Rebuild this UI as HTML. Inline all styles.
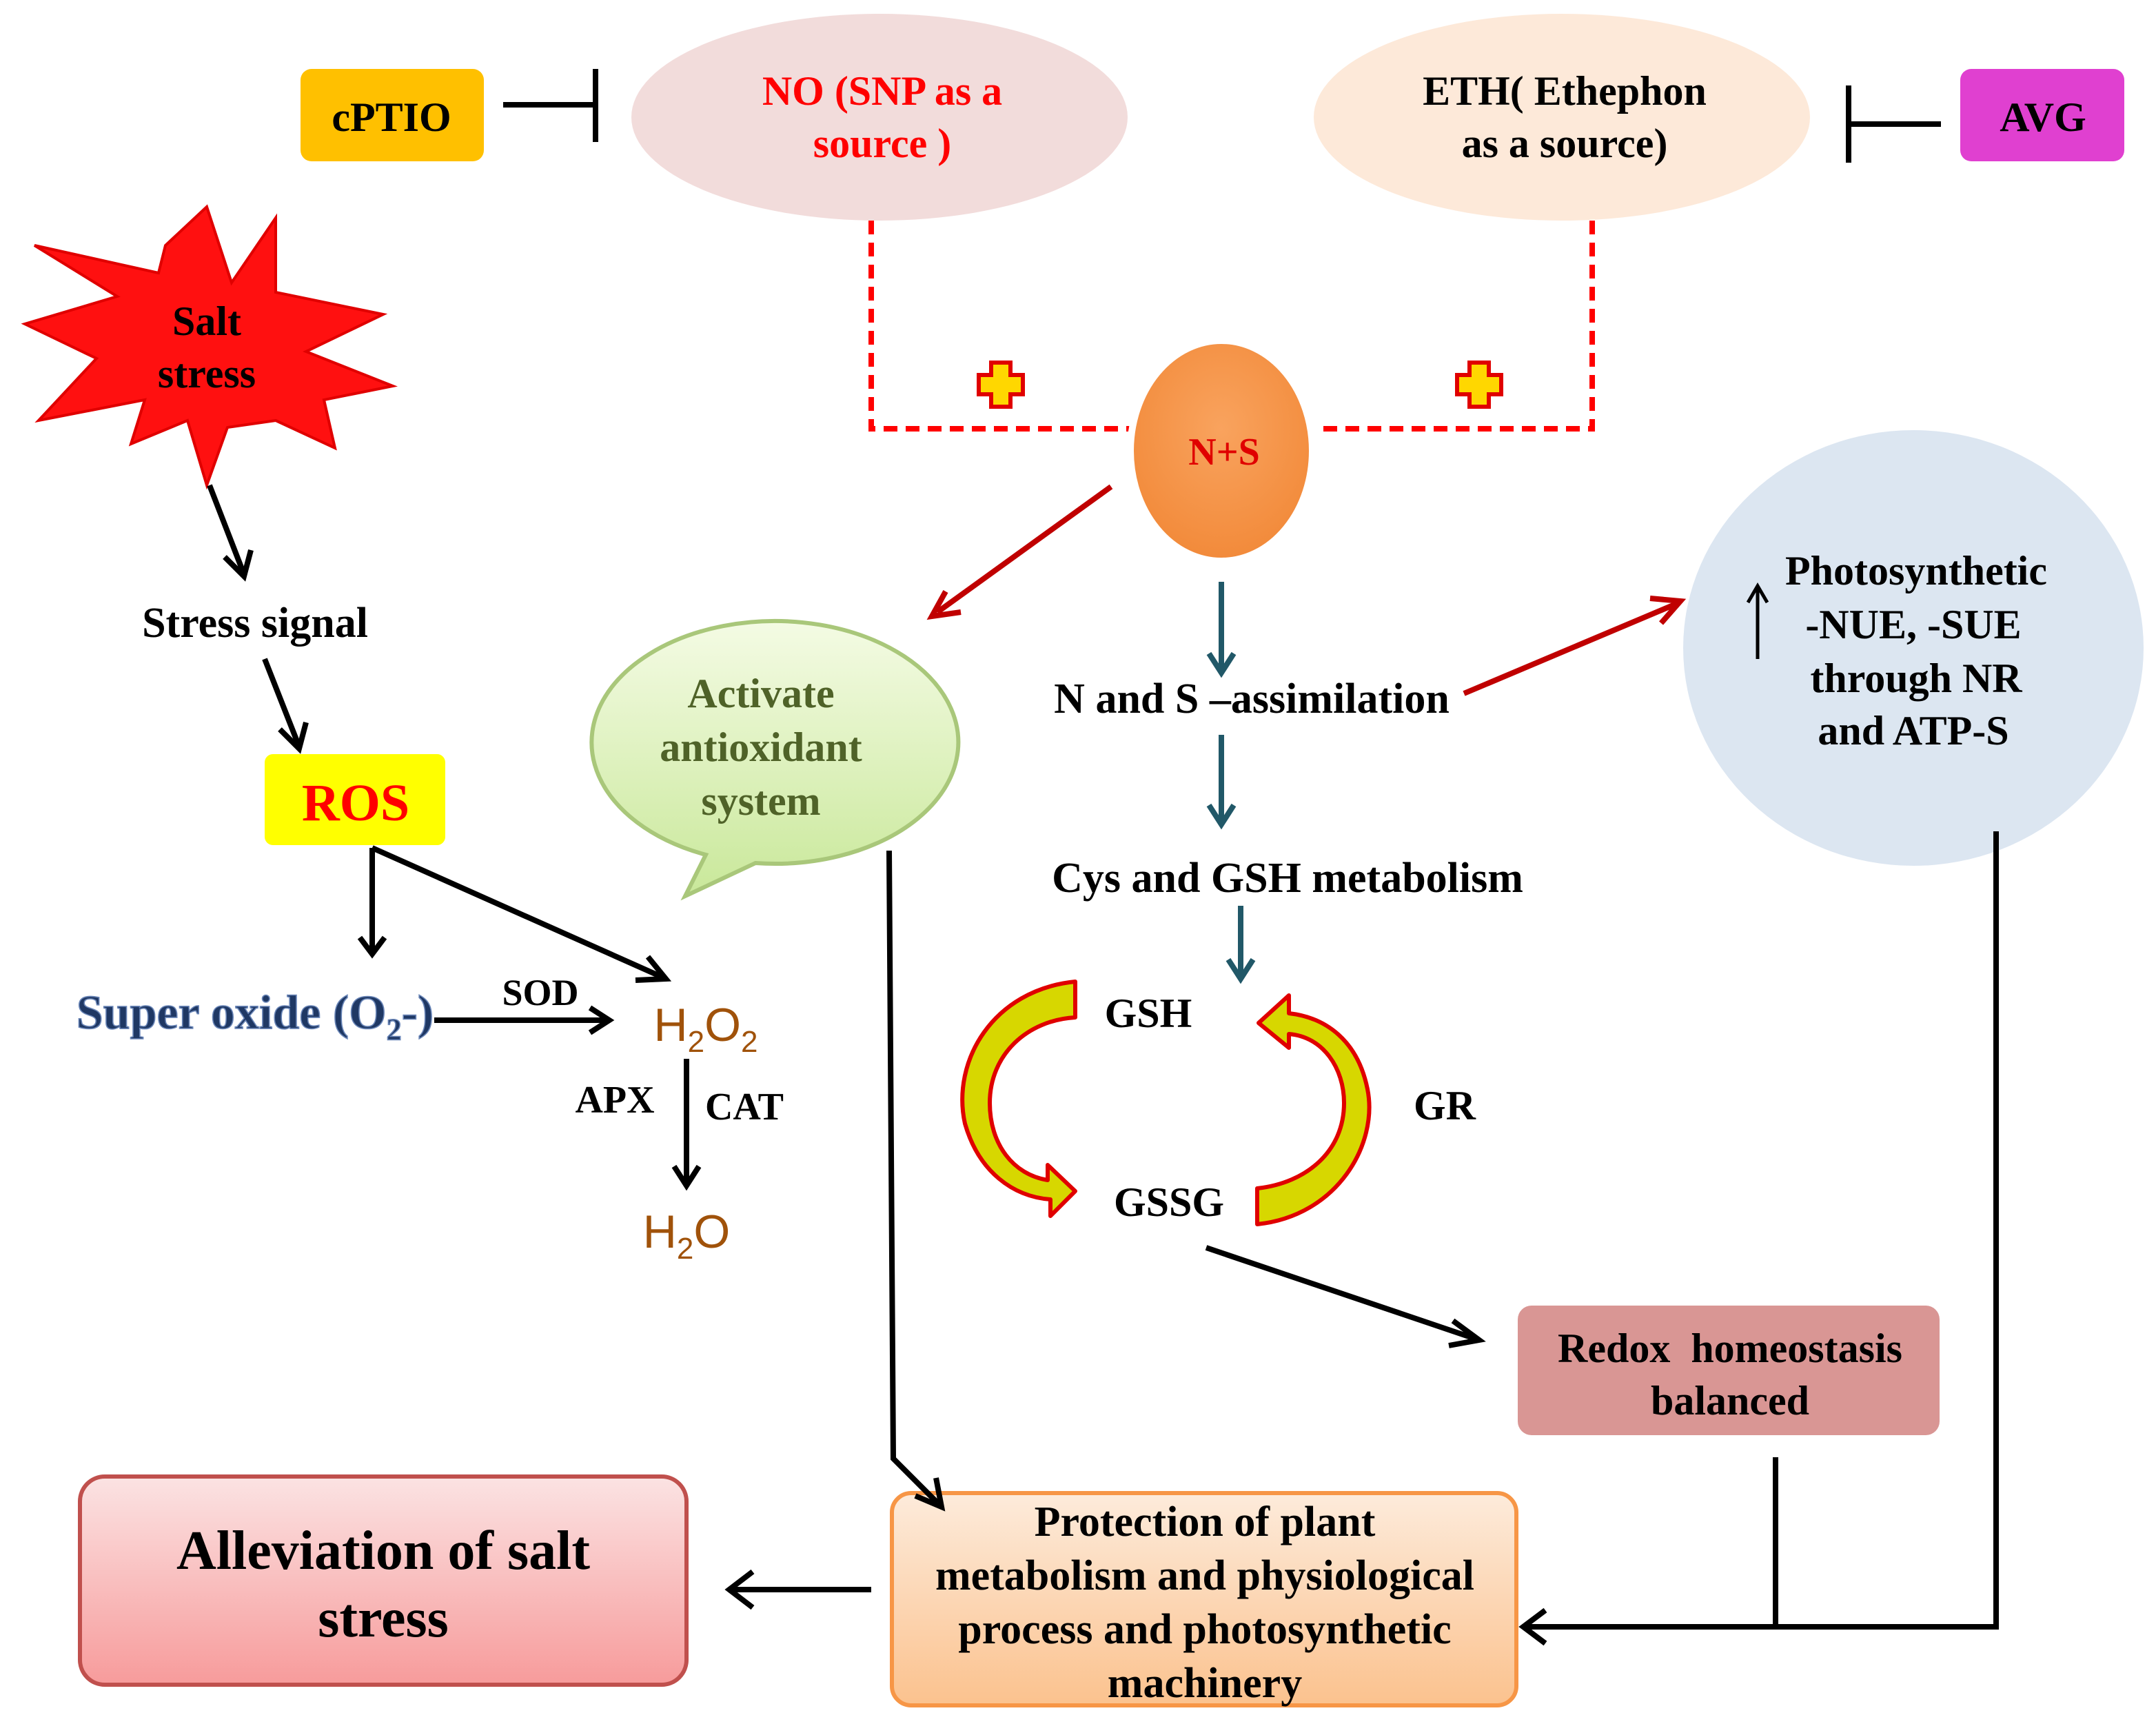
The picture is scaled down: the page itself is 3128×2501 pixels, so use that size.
<!DOCTYPE html>
<html><head><meta charset="utf-8"><style>
html,body{margin:0;padding:0;background:#fff;}
svg{display:block;}
text{font-family:"Liberation Serif",serif;font-weight:bold;}
</style></head><body>
<svg width="3128" height="2501" viewBox="0 0 1564 1250.5" xmlns="http://www.w3.org/2000/svg">
<defs>
<linearGradient id="gg" x1="0" y1="0" x2="0" y2="1"><stop offset="0" stop-color="#F4FBE4"/><stop offset="1" stop-color="#C9E89A"/></linearGradient>
<linearGradient id="gp" x1="0" y1="0" x2="0" y2="1"><stop offset="0" stop-color="#FDEBDB"/><stop offset="1" stop-color="#FBC28E"/></linearGradient>
<linearGradient id="ga" x1="0" y1="0" x2="0" y2="1"><stop offset="0" stop-color="#FBE3E3"/><stop offset="1" stop-color="#F79B9B"/></linearGradient>
<radialGradient id="gn" cx="0.5" cy="0.4" r="0.6"><stop offset="0" stop-color="#F9A35E"/><stop offset="1" stop-color="#F28A3A"/></radialGradient>
</defs>

<rect x="218" y="50" width="133" height="67" rx="8" fill="#FFC000"/>
<text x="284" y="95" font-size="30" text-anchor="middle">cPTIO</text>
<line x1="365" y1="76" x2="432" y2="76" stroke="#000" stroke-width="4"/>
<line x1="432" y1="50" x2="432" y2="103" stroke="#000" stroke-width="4"/>

<ellipse cx="638" cy="85" rx="180" ry="75" fill="#F2DCDB"/>
<text x="640" y="76" font-size="30" fill="#FF0000" text-anchor="middle">NO (SNP as a</text>
<text x="640" y="114" font-size="30" fill="#FF0000" text-anchor="middle">source )</text>

<ellipse cx="1133" cy="85" rx="180" ry="75" fill="#FDE9D9"/>
<text x="1135" y="76" font-size="30" text-anchor="middle">ETH( Ethephon</text>
<text x="1135" y="114" font-size="30" text-anchor="middle">as a source)</text>

<rect x="1422" y="50" width="119" height="67" rx="8" fill="#E040D0"/>
<text x="1482" y="95" font-size="30" text-anchor="middle">AVG</text>
<line x1="1341" y1="90" x2="1408" y2="90" stroke="#000" stroke-width="4"/>
<line x1="1341" y1="62" x2="1341" y2="118" stroke="#000" stroke-width="4"/>

<polyline points="632,160 632,311 822,311" fill="none" stroke="#FF0000" stroke-width="4" stroke-dasharray="10,6"/>
<polyline points="1155,160 1155,311 956,311" fill="none" stroke="#FF0000" stroke-width="4" stroke-dasharray="10,6"/>
<path d="M719,263 h14 v9 h9 v14 h-9 v9 h-14 v-9 h-9 v-14 h9 z" fill="#FFD700" stroke="#E00000" stroke-width="3"/>
<path d="M1066,263 h14 v9 h9 v14 h-9 v9 h-14 v-9 h-9 v-14 h9 z" fill="#FFD700" stroke="#E00000" stroke-width="3"/>

<ellipse cx="886" cy="327" rx="66" ry="80" fill="url(#gn)" stroke="#fff" stroke-width="5"/>
<text x="888" y="337" font-size="28" fill="#E00000" text-anchor="middle">N+S</text>

<polygon points="150,150 168,205 200,158 200,212 278,228 222,255 285,280 235,290 243,325 200,305 165,310 150,352 136,305 95,322 105,290 28,305 70,260 18,235 85,215 25,178 115,198 120,178" fill="#FF1010" stroke="#E00000" stroke-width="2"/>
<text x="150" y="243" font-size="30" text-anchor="middle">Salt</text>
<text x="150" y="281" font-size="30" text-anchor="middle">stress</text>

<g stroke="#000" stroke-width="4" fill="none">
<line x1="152" y1="352" x2="176" y2="414"/><polyline points="163,404 177,418 182,399"/>
<line x1="192" y1="478" x2="216" y2="539"/><polyline points="203,529 217,543 222,524"/>
<line x1="270" y1="615" x2="270" y2="690"/><polyline points="261,680 270,692 279,680"/>
<polyline points="270,615 481,709"/><polyline points="461,711 483,710 470,694"/>
<line x1="315" y1="740" x2="440" y2="740"/><polyline points="428,731 442,740 428,749"/>
<line x1="498" y1="768" x2="498" y2="857"/><polyline points="489,846 498,860 507,846"/>
</g>
<text x="185" y="462" font-size="31" text-anchor="middle">Stress signal</text>
<rect x="192" y="547" width="131" height="66" rx="6" fill="#FFFF00"/>
<text x="258" y="595" font-size="38" fill="#FF0000" text-anchor="middle">ROS</text>
<text x="185" y="746" font-size="35" fill="#1F3864" stroke="#6A86B8" stroke-width="0.8" text-anchor="middle">Super oxide (O<tspan font-size="22" dy="8">2</tspan><tspan dy="-8">-)</tspan></text>
<text x="392" y="729" font-size="27" text-anchor="middle">SOD</text>
<text x="512" y="755" font-size="34" fill="#A0520A" text-anchor="middle" style="font-family:'Liberation Sans',sans-serif;font-weight:normal">H<tspan font-size="22" dy="8">2</tspan><tspan dy="-8">O</tspan><tspan font-size="22" dy="8">2</tspan></text>
<text x="446" y="807" font-size="28" text-anchor="middle">APX</text>
<text x="540" y="812" font-size="28" text-anchor="middle">CAT</text>
<text x="498" y="905" font-size="34" fill="#A0520A" text-anchor="middle" style="font-family:'Liberation Sans',sans-serif;font-weight:normal">H<tspan font-size="22" dy="8">2</tspan><tspan dy="-8">O</tspan></text>

<line x1="806" y1="353" x2="680" y2="444" stroke="#C00000" stroke-width="4"/>
<polyline points="686,429 676,447 697,444" fill="none" stroke="#C00000" stroke-width="4"/>
<line x1="1062" y1="503" x2="1216" y2="438" stroke="#C00000" stroke-width="4"/>
<polyline points="1197,434 1219,436 1205,452" fill="none" stroke="#C00000" stroke-width="4"/>

<path d="M497,650 L512,620 A133,88 0 1 1 548,626 Z" fill="url(#gg)" stroke="#A9C77A" stroke-width="3"/>
<text x="552" y="513" font-size="30" fill="#4F6228" text-anchor="middle">Activate</text>
<text x="552" y="552" font-size="30" fill="#4F6228" text-anchor="middle">antioxidant</text>
<text x="552" y="591" font-size="30" fill="#4F6228" text-anchor="middle">system</text>

<g stroke="#215868" stroke-width="4" fill="none">
<line x1="886" y1="422" x2="886" y2="486"/><polyline points="877,474 886,488 895,474"/>
<line x1="886" y1="533" x2="886" y2="596"/><polyline points="877,584 886,598 895,584"/>
<line x1="900" y1="657" x2="900" y2="708"/><polyline points="891,696 900,710 909,696"/>
</g>
<text x="908" y="517" font-size="31" text-anchor="middle">N and S –assimilation</text>
<text x="934" y="647" font-size="31" text-anchor="middle">Cys and GSH metabolism</text>

<ellipse cx="1388" cy="470" rx="167" ry="158" fill="#DCE6F1"/>
<text x="1390" y="424" font-size="30" text-anchor="middle">Photosynthetic</text>
<text x="1388" y="463" font-size="30" text-anchor="middle">-NUE, -SUE</text>
<text x="1390" y="502" font-size="30" text-anchor="middle">through NR</text>
<text x="1388" y="540" font-size="30" text-anchor="middle">and ATP-S</text>
<line x1="1275" y1="478" x2="1275" y2="427" stroke="#000" stroke-width="2.5"/>
<polyline points="1268,437 1275,425 1282,437" fill="none" stroke="#000" stroke-width="2.5"/>

<path d="M780,712 C720,718 690,770 700,815 C710,850 735,868 762,870 L762,882 L780,864 L760,845 L760,856 C735,852 718,830 718,800 C718,765 745,740 780,738 Z" fill="#D7D700" stroke="#E00000" stroke-width="3" stroke-linejoin="round"/>
<path d="M912,888 C970,882 1000,830 992,790 C985,755 962,738 935,735 L935,722 L913,742 L935,760 L935,750 C960,752 975,775 975,800 C975,835 948,858 912,862 Z" fill="#D7D700" stroke="#E00000" stroke-width="3" stroke-linejoin="round"/>
<text x="833" y="745" font-size="30" text-anchor="middle">GSH</text>
<text x="848" y="882" font-size="30" text-anchor="middle">GSSG</text>
<text x="1048" y="812" font-size="30" text-anchor="middle">GR</text>

<rect x="1101" y="947" width="306" height="94" rx="10" fill="#D99694"/>
<text x="1255" y="988" font-size="30" text-anchor="middle" xml:space="preserve">Redox  homeostasis</text>
<text x="1255" y="1026" font-size="30" text-anchor="middle">balanced</text>

<rect x="647" y="1083" width="453" height="154" rx="14" fill="url(#gp)" stroke="#F79646" stroke-width="3"/>
<text x="874" y="1114" font-size="31" text-anchor="middle">Protection of plant</text>
<text x="874" y="1153" font-size="31" text-anchor="middle">metabolism and physiological</text>
<text x="874" y="1192" font-size="31" text-anchor="middle">process and photosynthetic</text>
<text x="874" y="1231" font-size="31" text-anchor="middle">machinery</text>

<g stroke="#000" stroke-width="4" fill="none">
<line x1="875" y1="905" x2="1070" y2="971"/><polyline points="1054,958 1073,972 1051,976"/>
<polyline points="645,617 648,1058 680,1090"/><polyline points="664,1085 683,1093 679,1072"/>
<polyline points="1448,603 1448,1180 1107,1180"/><polyline points="1121,1168 1105,1180 1121,1192"/>
<line x1="1288" y1="1057" x2="1288" y2="1180"/>
<line x1="632" y1="1153" x2="530" y2="1153"/><polyline points="546,1140 529,1153 546,1166"/>
</g>

<rect x="58" y="1071" width="440" height="151" rx="18" fill="url(#ga)" stroke="#C0504D" stroke-width="3"/>
<text x="278" y="1138" font-size="40" text-anchor="middle">Alleviation of salt</text>
<text x="278" y="1187" font-size="40" text-anchor="middle">stress</text>
</svg>
</body></html>
